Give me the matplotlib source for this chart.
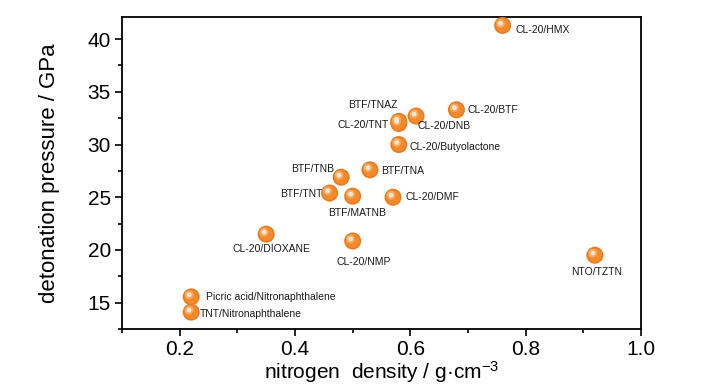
import matplotlib
matplotlib.use("Agg")
import matplotlib.pyplot as plt
from matplotlib import font_manager
import matplotlib.transforms as mtrans
from matplotlib.ticker import MultipleLocator

names = ["CL-20/HMX", "CL-20/BTF", "CL-20/DNB", "BTF/TNAZ", "CL-20/TNT",
         "CL-20/Butyolactone", "BTF/TNA", "BTF/TNB", "BTF/TNT", "BTF/MATNB",
         "CL-20/DMF", "CL-20/DIOXANE", "CL-20/NMP", "NTO/TZTN",
         "Picric acid/Nitronaphthalene", "TNT/Nitronaphthalene"]
density = [0.76, 0.68, 0.61, 0.58, 0.58, 0.58, 0.53, 0.48, 0.46, 0.50,
           0.57, 0.35, 0.50, 0.92, 0.22, 0.22]
pressure = [41.3, 33.3, 32.7, 32.2, 32.0, 30.0, 27.6, 26.9, 25.4, 25.1,
            25.0, 21.5, 20.85, 19.5, 15.55, 14.1]

# label offsets (points) and alignment
label_pos = {
    "CL-20/HMX": (9, -3, "left", "center"),
    "CL-20/BTF": (8, 0, "left", "center"),
    "CL-20/DNB": (1, -7, "left", "center"),
    "BTF/TNAZ": (-19, 12, "center", "center"),
    "CL-20/TNT": (-7, -1, "right", "center"),
    "CL-20/Butyolactone": (8, -2, "left", "center"),
    "BTF/TNA": (8, -1, "left", "center"),
    "BTF/TNB": (-5, 6, "right", "center"),
    "BTF/TNT": (-5, -1, "right", "center"),
    "BTF/MATNB": (3, -12, "center", "center"),
    "CL-20/DMF": (9, 0, "left", "center"),
    "CL-20/DIOXANE": (4, -11, "center", "center"),
    "CL-20/NMP": (8, -15, "center", "center"),
    "NTO/TZTN": (1, -12, "center", "center"),
    "Picric acid/Nitronaphthalene": (11, 0, "left", "center"),
    "TNT/Nitronaphthalene": (6, -1, "left", "center"),
}

avail = {f.name for f in font_manager.fontManager.ttflist}
fam = "Liberation Sans Narrow" if "Liberation Sans Narrow" in avail else "Liberation Sans"
plt.rcParams['font.family'] = [fam, 'DejaVu Sans']
plt.rcParams['mathtext.default'] = 'regular'

fig = plt.figure(figsize=(7.28, 3.90), dpi=100)
ax = fig.add_axes([122/728, 1-329/390, (641-122)/728, (329-17)/390])

ax.set_xlim(0.1, 1.0)
ax.set_ylim(12.5, 42.1)

# sphere-like markers
ax.scatter(density, pressure, s=150, color="#EC7A1C", zorder=3, edgecolors="none")
ax.scatter(density, pressure, s=100, color="#F28A2C", zorder=4, edgecolors="none")
off = mtrans.offset_copy(ax.transData, fig=fig, x=-1.5, y=1.5, units='points')
ax.scatter(density, pressure, s=40, color="#F7AA62", zorder=5, edgecolors="none", transform=off)
ax.scatter(density, pressure, s=12, color="#FDE6D0", zorder=6, edgecolors="none", transform=off)

for n, x, y in zip(names, density, pressure):
    dx, dy, ha, va = label_pos[n]
    ax.annotate(n, (x, y), xytext=(dx, dy), textcoords="offset points",
                ha=ha, va=va, fontsize=7.5, color="#1a1a1a", zorder=7)

ax.xaxis.set_major_locator(MultipleLocator(0.2))
ax.xaxis.set_minor_locator(MultipleLocator(0.1))
ax.yaxis.set_major_locator(MultipleLocator(5))
ax.yaxis.set_minor_locator(MultipleLocator(2.5))
ax.set_xticks([0.2, 0.4, 0.6, 0.8, 1.0])
ax.set_xticklabels(["0.2", "0.4", "0.6", "0.8", "1.0"])
ax.set_yticks([15, 20, 25, 30, 35, 40])

ax.tick_params(which='major', direction='out', length=5, width=1.2, labelsize=15, pad=3)
ax.tick_params(which='minor', direction='out', length=3, width=1.2)
ax.tick_params(top=False, right=False)
for sp in ax.spines.values():
    sp.set_linewidth(1.3)

ax.set_xlabel("nitrogen  density / g\u00b7cm$^{-3}$", fontsize=15, labelpad=0)
ax.set_ylabel("detonation pressure / GPa", fontsize=16, labelpad=20)

fig.savefig("out.png", dpi=100)
